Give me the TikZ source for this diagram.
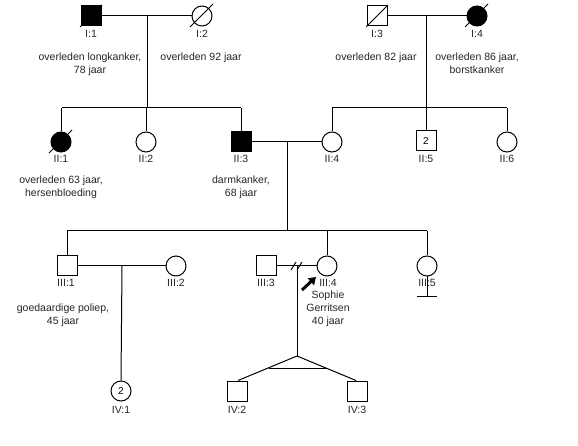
\documentclass[tikz,border=0pt]{standalone}
\usepackage{fontspec}
\setmainfont{Liberation Sans}
\usetikzlibrary{arrows.meta,calc}
\begin{document}
\begin{tikzpicture}[x=1pt,y=-1pt,
  ln/.style={line width=1pt},
  male/.style={draw, rectangle, minimum size=20pt, inner sep=0pt, line width=1pt, fill=white, font=\fontsize{10}{12}\selectfont},
  female/.style={draw, circle, minimum size=20pt, inner sep=0pt, line width=1pt, fill=white, font=\fontsize{10}{12}\selectfont},
  aff/.style={fill=black},
  lbl/.style={inner sep=0pt, font=\fontsize{10.5}{13}\selectfont, align=center, text=black!85},
  dec/.style={line width=1pt}
]
\useasboundingbox[fill=white] (0,0) rectangle (578,446);

% Generation I
\node[male,aff] (I1) at (91,16) {};
\node[female] (I2) at (202,16) {};
\node[male] (I3) at (377,16) {};
\node[female,aff] (I4) at (477,16) {};
\draw[dec] ([shift={(-11pt,-11pt)}]I1.center) -- ([shift={(11pt,11pt)}]I1.center);
\draw[dec] ([shift={(-12pt,-11pt)}]I2.center) -- ([shift={(11pt,12pt)}]I2.center);
\draw[dec] ([shift={(-11pt,-11pt)}]I3.center) -- ([shift={(11pt,11pt)}]I3.center);
\draw[dec] ([shift={(-12pt,-11pt)}]I4.center) -- ([shift={(11pt,12pt)}]I4.center);
\node[lbl] (lI1) at (91,34) {I:1};
\node[lbl] (lI2) at (202,34) {I:2};
\node[lbl] (lI3) at (377,34) {I:3};
\node[lbl] (lI4) at (477,34) {I:4};
\node[lbl,anchor=north] (tI1) at (90,53) {overleden longkanker,\\78 jaar};
\node[lbl,anchor=north] (tI2) at (201,53) {overleden 92 jaar};
\node[lbl,anchor=north] (tI3) at (376,53) {overleden 82 jaar};
\node[lbl,anchor=north] (tI4) at (477,53) {overleden 86 jaar,\\borstkanker};

\draw[ln] (I1) -- (I2);
\draw[ln] (I3) -- (I4);
\coordinate (cA) at (147,16);
\coordinate (sA) at (147,108);
\coordinate (sAl) at (62,108);
\coordinate (sAr) at (241,108);
\draw[ln] (cA) -- (sA);
\draw[ln] (sAl) -- (sAr);
\coordinate (cB) at (426,16);
\coordinate (sB) at (426,108);
\coordinate (sBl) at (332,108);
\coordinate (sBr) at (507,108);
\draw[ln] (cB) -- (sB);
\draw[ln] (sBl) -- (sBr);

% Generation II
\node[female,aff] (II1) at (61,142) {};
\node[female] (II2) at (146,142) {};
\node[male,aff] (II3) at (241,142) {};
\node[female] (II4) at (332,142) {};
\node[male] (II5) at (426,141) {2};
\node[female] (II6) at (507,142) {};
\draw[dec] ([shift={(-12pt,-11pt)}]II1.center) -- ([shift={(11pt,12pt)}]II1.center);
\foreach \n in {II1,II2,II3}{\draw[ln] (\n.north) -- (\n.north |- sAl);}
\foreach \n in {II4,II5,II6}{\draw[ln] (\n.north) -- (\n.north |- sBl);}
\node[lbl] (lII1) at (61,159) {II:1};
\node[lbl] (lII2) at (146,159) {II:2};
\node[lbl] (lII3) at (241,159) {II:3};
\node[lbl] (lII4) at (332,159) {II:4};
\node[lbl] (lII5) at (426,159) {II:5};
\node[lbl] (lII6) at (507,159) {II:6};
\node[lbl,anchor=north] (tII1) at (61,176) {overleden 63 jaar,\\hersenbloeding};
\node[lbl,anchor=north] (tII3) at (241,176) {darmkanker,\\68 jaar};

\draw[ln] (II3) -- (II4);
\coordinate (cC) at (287,142);
\coordinate (sC) at (287,231);
\coordinate (sCl) at (67,231);
\coordinate (sCr) at (427,231);
\draw[ln] (cC) -- (sC);
\draw[ln] (sCl) -- (sCr);

% Generation III
\node[male] (III1) at (67,266) {};
\node[female] (III2) at (176,266) {};
\node[male] (III3) at (266,266) {};
\node[female] (III4) at (327,266) {};
\node[female] (III5) at (427,266) {};
\foreach \n in {III1,III4,III5}{\draw[ln] (\n.north) -- (\n.north |- sCl);}
\node[lbl] (lIII1) at (66,283) {III:1};
\node[lbl] (lIII2) at (176,283) {III:2};
\node[lbl] (lIII3) at (266,283) {III:3};
\node[lbl] (lIII4) at (328,283) {III:4};
\node[lbl] (lIII5) at (427,283) {III:5};
\node[lbl,anchor=north] (tIII1) at (63,304) {goedaardige poliep,\\45 jaar};
\node[lbl,anchor=north] (tIII4) at (328,291) {Sophie\\Gerritsen\\40 jaar};

\draw[ln] (III1) -- (III2);
\draw[ln] (III3) -- (III4);
% separation marks
\coordinate (m1a) at (291,270); \coordinate (m1b) at (296,262);
\coordinate (m2a) at (297,270); \coordinate (m2b) at (302,262);
\draw[ln] (m1a) -- (m1b);
\draw[ln] (m2a) -- (m2b);
% no offspring
\coordinate (nb) at (427,296);
\coordinate (nbl) at (417,296);
\coordinate (nbr) at (437,296);
\draw[ln] (III5.south) -- (nb);
\draw[ln] (nbl) -- (nbr);
% proband arrow
\coordinate (pa) at (302,290);
\coordinate (pb) at (316,277);
\draw[line width=3pt,-{Triangle[length=7pt,width=9pt]}] (pa) -- (pb);

% Generation IV
\coordinate (cD) at (122,266);
\coordinate (cE) at (297,266);
\coordinate (apex) at (297,356);
\node[female] (IV1) at (121,391) {2};
\node[male] (IV2) at (237,391) {};
\node[male] (IV3) at (357,391) {};
\draw[ln] (cD) -- (IV1.north);
\draw[ln] (cE) -- (apex);
\draw[ln] (apex) -- ([xshift=1pt]IV2.north);
\draw[ln] (apex) -- ([xshift=-1pt]IV3.north);
\coordinate (tbl) at (268.5,368);
\coordinate (tbr) at (325.5,368);
\draw[ln] (tbl) -- (tbr);
\node[lbl] (lIV1) at (121,410) {IV:1};
\node[lbl] (lIV2) at (237,410) {IV:2};
\node[lbl] (lIV3) at (357,410) {IV:3};
\end{tikzpicture}
\end{document}
